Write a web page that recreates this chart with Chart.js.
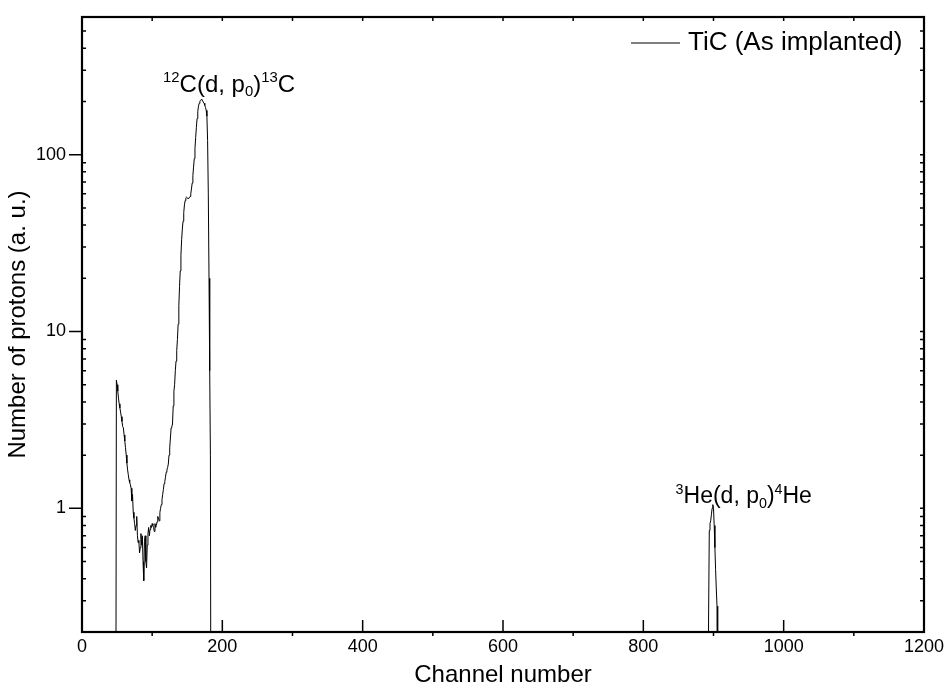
<!DOCTYPE html>
<html><head><meta charset="utf-8">
<script src="https://cdn.jsdelivr.net/npm/chart.js@4.4.1/dist/chart.umd.min.js"></script>
<style>html,body{margin:0;padding:0;background:#fff}#wrap{width:947px;height:690px;position:relative}</style>
</head><body><div id="wrap"><canvas id="c"></canvas></div>
<script>
// ---- data ----
const seriesName = 'TiC (As implanted)';
const carbonChannels = [48,49,50,51,52,53,54,55,56,57,58,59,60,61,62,63,64,65,66,67,68,69,70,71,72,73,74,75,76,77,78,79,80,81,82,83,84,85,86,87,88,89,90,91,92,93,94,95,96,97,98,99,100,101,102,103,104,105,106,107,108,109,110,111,112,113,114,115,116,117,118,119,120,121,122,123,124,125,126,127,128,129,130,131,132,133,134,135,136,137,138,139,140,141,142,143,144,145,146,147,148,149,150,151,152,153,154,155,156,157,158,159,160,161,162,163,164,165,166,167,168,169,170,171,172,173,174,175,176,177,178,179,180,181,182,183,184];
const carbonCounts = [0,5.3,5.0,4.6,4.2,3.9,3.7,3.5,3.3,3.1,2.9,2.85,2.6,2.4,2.2,2.0,1.8,1.65,1.55,1.45,1.4,1.36,1.3,1.1,1.2,0.95,0.88,0.82,0.75,0.8,0.9,0.7,0.64,0.66,0.56,0.6,0.72,0.62,0.7,0.5,0.39,0.65,0.7,0.5,0.46,0.62,0.72,0.78,0.7,0.76,0.8,0.78,0.82,0.8,0.78,0.74,0.82,0.78,0.8,0.84,0.9,0.88,0.85,0.95,1.0,1.05,1.12,1.2,1.28,1.38,1.42,1.5,1.6,1.65,1.7,1.78,2.0,2.2,2.5,2.85,2.9,3.0,3.8,4.6,5.0,6.0,6.8,7.8,9,11,14,18,22,27,33,38,42,47,52,55,57,57.5,57,56.5,56.5,57,58,60,64,69,76,85,95,108,125,142,160,175,188,195,200,203,205,204,201,198,195,190,185,178,165,120,60,20,6,2,0];
const heliumChannels = [892,893,894,895,896,897,898,899,900,901,902,903,904,905,906];
const heliumCounts = [0,0.24,0.75,0.82,0.85,0.92,1.0,1.05,1.0,0.8,0.6,0.45,0.35,0.28,0];
const xTickValues = [0,200,400,600,800,1000,1200];
const yTickValues = [1,10,100];
const xTitle = 'Channel number';
const yTitle = 'Number of protons (a. u.)';
// annotation text pieces: [text, kind] (kind: n normal, sup, sub)
const carbonLabelParts = [['12','sup'],['C(d, p','n'],['0','sub'],[')','n'],['13','sup'],['C','n']];
const heliumLabelParts = [['3','sup'],['He(d, p','n'],['0','sub'],[')','n'],['4','sup'],['He','n']];
const carbonLabelAnchor = {x: 115.5, y: 227};
const heliumLabelAnchor = {x: 846, y: 1.07};

// ---- build ----
const belowAxis = 0.01; // zero counts fall below the log axis
const points = [];
carbonChannels.forEach((c,i)=>points.push({x:c,y:carbonCounts[i] || belowAxis}));
heliumChannels.forEach((c,i)=>points.push({x:c,y:heliumCounts[i] || belowAxis}));

const FONT = "'Liberation Sans', Arial, Helvetica, sans-serif";

function drawRich(ctx, parts, x, y, size) {
  let cx = x;
  parts.forEach(([t,k])=>{
    let s = size, dy = 0;
    if (k==='sup') { s = size*0.62; dy = -size*0.40; }
    else if (k==='sub') { s = size*0.62; dy = size*0.20; }
    ctx.font = s + 'px ' + FONT;
    ctx.fillText(t, cx, y+dy);
    cx += ctx.measureText(t).width;
  });
}

const framePlugin = {
  id: 'frame',
  afterDraw(chart) {
    const {ctx, chartArea: a, scales: {x, y}} = chart;
    ctx.save();
    ctx.strokeStyle = '#000';
    ctx.fillStyle = '#000';
    ctx.lineWidth = 1.5;
    ctx.beginPath();
    for (let v = 0; v <= 1200; v += 100) {
      const px = x.getPixelForValue(v);
      const major = v % 200 === 0;
      if (major) { ctx.moveTo(px, a.bottom); ctx.lineTo(px, a.bottom - 12); }
      else { ctx.moveTo(px, a.bottom); ctx.lineTo(px, a.bottom + 4); }
      ctx.moveTo(px, a.top); ctx.lineTo(px, a.top + 4);
    }
    for (let e = -1; e <= 2; e++) {
      for (let m = 1; m <= 9; m++) {
        const v = m * Math.pow(10, e);
        if (v < y.min || v > y.max) continue;
        const py = y.getPixelForValue(v);
        if (m === 1) {
          ctx.moveTo(a.left, py); ctx.lineTo(a.left - 13, py);
          ctx.moveTo(a.right, py); ctx.lineTo(a.right - 4, py);
        } else {
          ctx.moveTo(a.left, py); ctx.lineTo(a.left + 4, py);
          ctx.moveTo(a.right, py); ctx.lineTo(a.right - 4, py);
        }
      }
    }
    ctx.stroke();
    ctx.lineWidth = 2.2;
    ctx.strokeRect(a.left, a.top, a.right - a.left, a.bottom - a.top);
    // legend
    ctx.lineWidth = 1;
    const ly = a.top + 26;
    ctx.beginPath();
    ctx.moveTo(a.right - 293, ly); ctx.lineTo(a.right - 244, ly);
    ctx.stroke();
    ctx.font = '26px ' + FONT;
    ctx.textBaseline = 'middle';
    ctx.textAlign = 'left';
    ctx.fillText(seriesName, a.right - 236, ly);
    // annotations
    ctx.textBaseline = 'alphabetic';
    drawRich(ctx, carbonLabelParts, x.getPixelForValue(carbonLabelAnchor.x), y.getPixelForValue(carbonLabelAnchor.y), 24);
    drawRich(ctx, heliumLabelParts, x.getPixelForValue(heliumLabelAnchor.x), y.getPixelForValue(heliumLabelAnchor.y), 23);
    ctx.restore();
  }
};

new Chart(document.getElementById('c'), {
  type: 'line',
  data: { datasets: [{ label: seriesName, data: points, borderColor: '#000', borderWidth: 1, pointRadius: 0, tension: 0, fill: false }] },
  options: {
    responsive: true, maintainAspectRatio: false, animation: false,
    layout: { padding: { top: 17, right: 23, left: 0, bottom: 0 } },
    plugins: { legend: { display: false }, tooltip: { enabled: false } },
    scales: {
      x: {
        type: 'linear', min: 0, max: 1200,
        grid: { display: false, drawTicks: false }, border: { display: false },
        afterBuildTicks(s) { s.ticks = xTickValues.map(v => ({ value: v })); },
        afterFit(s) { s.height = 58; s.paddingLeft = 0; s.paddingRight = 0; },
        ticks: { color: '#000', font: { family: FONT, size: 18 }, padding: 4, maxRotation: 0, autoSkip: false, callback: v => String(v) },
        title: { display: true, text: xTitle, color: '#000', font: { family: FONT, size: 24 }, padding: { top: 0, bottom: 0 } }
      },
      y: {
        type: 'logarithmic', min: 0.2, max: 600,
        grid: { display: false, drawTicks: false }, border: { display: false },
        afterBuildTicks(s) { s.ticks = yTickValues.map(v => ({ value: v })); },
        afterFit(s) { s.width = 82; s.paddingTop = 0; s.paddingBottom = 0; },
        ticks: { color: '#000', font: { family: FONT, size: 18 }, padding: 16, autoSkip: false, callback: v => String(v) },
        title: { display: true, text: yTitle, color: '#000', font: { family: FONT, size: 24 }, padding: { top: 4, bottom: 0 } }
      }
    }
  },
  plugins: [framePlugin]
});
</script></body></html>
